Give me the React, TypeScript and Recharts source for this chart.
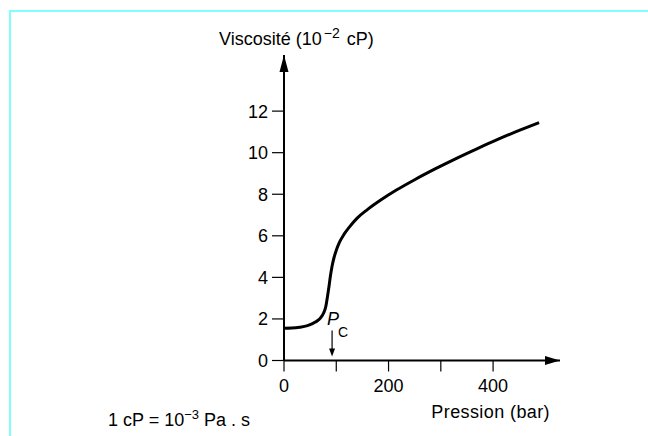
import { LineChart, Line, XAxis, YAxis, ReferenceDot, Label } from 'recharts';

// pression (bar) / viscosité (10^-2 cP)
const pressure = [0, 15, 30, 45, 60, 70, 76, 80, 83, 86, 89, 92, 96, 100, 106, 115, 125, 140, 160, 185, 215, 250, 290, 330, 370, 410, 450, 488];
const viscosity = [1.55, 1.56, 1.6, 1.68, 1.85, 2.05, 2.3, 2.6, 3.05, 3.55, 4.1, 4.55, 4.98, 5.3, 5.68, 6.08, 6.42, 6.85, 7.27, 7.72, 8.2, 8.7, 9.23, 9.73, 10.2, 10.65, 11.07, 11.45];

const xTicks = [0, 100, 200, 300, 400];
const xTickLabels = ['0', '', '200', '', '400'];
const yTicks = [0, 2, 4, 6, 8, 10, 12];

const xMax = 528;
const yMax = 14.7;
const criticalPressure = 92;

const FONT = '"Liberation Sans", Arial, Helvetica, sans-serif';

const data = pressure.map((p, i) => ({ p, v: viscosity[i] }));

const ArrowRight = ({ cx, cy }: any) => (
  <polygon points={`${cx},${cy} ${cx - 15},${cy - 4.5} ${cx - 15},${cy + 4.5}`} fill="#000" />
);

const ArrowUp = ({ cx, cy }: any) => (
  <polygon points={`${cx},${cy} ${cx - 4.5},${cy + 17} ${cx + 4.5},${cy + 17}`} fill="#000" />
);

const PcMarker = ({ cx, cy }: any) => (
  <g>
    <line x1={cx} y1={cy - 30} x2={cx} y2={cy - 10} stroke="#000" strokeWidth={1.2} />
    <polygon points={`${cx - 3},${cy - 12} ${cx + 3},${cy - 12} ${cx},${cy - 4}`} fill="#000" />
    <text x={cx - 5} y={cy - 35.5} fontFamily={FONT} fontSize={18} fontStyle="italic" fill="#000">P</text>
    <text x={cx + 6} y={cy - 23.5} fontFamily={FONT} fontSize={14} fill="#000">C</text>
  </g>
);

const YTitle = ({ viewBox }: any) => {
  const axisX = viewBox.x + viewBox.width;
  return (
    <text x={axisX - 65} y={viewBox.y - 10} fontFamily={FONT} fontSize={18} fill="#000">
      Viscosité (10
      <tspan dx={2} dy={-7} fontSize={14}>−2</tspan>
      <tspan dx={2} dy={7}> cP)</tspan>
    </text>
  );
};

const XTitle = ({ viewBox }: any) => (
  <g fontFamily={FONT} fontSize={18} fill="#000">
    <text x={viewBox.x + viewBox.width - 10} y={viewBox.y + 57.5} textAnchor="end" letterSpacing={0.4}>
      Pression (bar)
    </text>
    <text x={108} y={viewBox.y + 65.5}>
      1 cP = 10
      <tspan dy={-7} fontSize={13}>−3</tspan>
      <tspan dy={7}> Pa . s</tspan>
    </text>
  </g>
);

export default function App() {
  return (
    <div style={{ position: 'absolute', left: 0, top: 0, width: 648, height: 436, background: '#fff' }}>
      <div
        style={{
          position: 'absolute',
          left: 9,
          top: 10,
          width: 639,
          height: 426,
          borderTop: '2px solid #80ffff',
          borderLeft: '2px solid #80ffff',
          boxSizing: 'border-box',
        }}
      />
      <LineChart
        width={648}
        height={436}
        data={data}
        margin={{ top: 55, right: 88, bottom: 45.5, left: 244 }}
        style={{ position: 'absolute', left: 0, top: 0 }}
      >
        <XAxis
          dataKey="p"
          type="number"
          domain={[0, xMax]}
          ticks={xTicks}
          tickFormatter={(v: number) => xTickLabels[xTicks.indexOf(v)] ?? ''}
          height={30}
          axisLine={{ stroke: '#000', strokeWidth: 2 }}
          tickLine={{ stroke: '#000', strokeWidth: 1.2 }}
          tickSize={11}
          tickMargin={8}
          tick={{ fill: '#000', fontSize: 18, fontFamily: FONT }}
        >
          <Label content={<XTitle />} />
        </XAxis>
        <YAxis
          type="number"
          domain={[0, yMax]}
          ticks={yTicks}
          width={40}
          axisLine={{ stroke: '#000', strokeWidth: 2 }}
          tickLine={{ stroke: '#000', strokeWidth: 1.2 }}
          tickSize={12}
          tickMargin={4}
          tick={{ fill: '#000', fontSize: 18, fontFamily: FONT }}
        >
          <Label content={<YTitle />} />
        </YAxis>
        <Line
          type="monotone"
          dataKey="v"
          stroke="#000"
          strokeWidth={3}
          dot={false}
          isAnimationActive={false}
        />
        <ReferenceDot x={xMax} y={0} shape={<ArrowRight />} ifOverflow="visible" />
        <ReferenceDot x={0} y={yMax} shape={<ArrowUp />} ifOverflow="visible" />
        <ReferenceDot x={criticalPressure} y={0} shape={<PcMarker />} ifOverflow="visible" />
      </LineChart>
    </div>
  );
}
